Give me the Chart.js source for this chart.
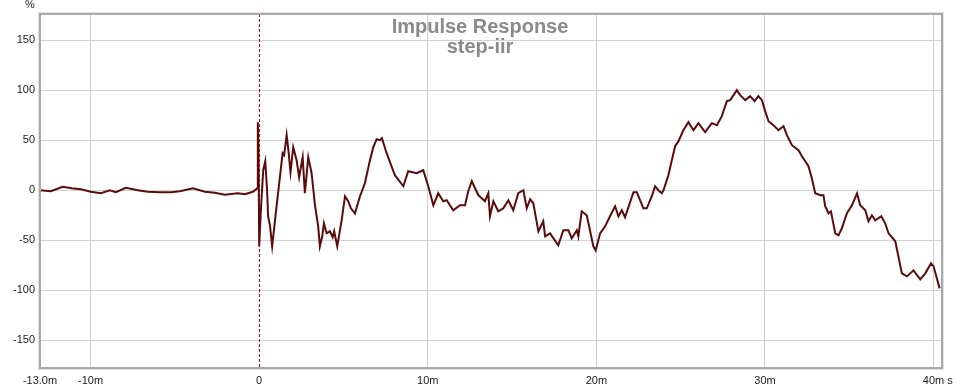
<!DOCTYPE html>
<html>
<head>
<meta charset="utf-8">
<script src="https://cdn.jsdelivr.net/npm/chart.js@4.4.1/dist/chart.umd.min.js"></script>
<style>
    html, body { margin: 0; padding: 0; background: #fff; }
</style>
</head>
<body>
<canvas id="myChart" width="960" height="390"></canvas>
<script>
// time in ms, response in %
const timeMs = [
    -13.0, -12.36, -11.65, -11.12, -10.58, -9.99, -9.39, -8.86, -8.50, -7.91,
    -7.20, -6.61, -5.89, -5.24, -4.71, -3.93, -3.22, -2.63, -2.04, -1.26,
    -0.85, -0.37, -0.18, -0.12, -0.08, -0.04, 0.0, 0.10, 0.24, 0.36,
    0.47, 0.53, 0.64, 0.77, 1.03, 1.23, 1.39, 1.48, 1.63, 1.72,
    1.86, 2.02, 2.22, 2.37, 2.58, 2.71, 2.91, 3.11, 3.31, 3.50,
    3.60, 3.74, 3.84, 4.00, 4.20, 4.36, 4.45, 4.63, 4.89, 5.09,
    5.28, 5.44, 5.68, 5.98, 6.27, 6.57, 6.77, 6.97, 7.16, 7.28,
    7.56, 8.05, 8.55, 8.84, 9.34, 9.73, 10.03, 10.33, 10.62, 10.92,
    11.12, 11.51, 11.91, 12.21, 12.40, 12.61, 13.00, 13.39, 13.59, 13.69,
    13.89, 14.18, 14.48, 14.78, 15.07, 15.37, 15.67, 15.87, 16.07, 16.26,
    16.56, 16.85, 16.96, 17.25, 17.74, 18.04, 18.34, 18.54, 18.84, 18.93,
    19.13, 19.43, 19.82, 19.96, 20.22, 20.52, 20.81, 21.11, 21.31, 21.51,
    21.70, 22.20, 22.40, 22.79, 22.99, 23.29, 23.48, 23.68, 23.88, 23.98,
    24.27, 24.67, 24.87, 25.16, 25.46, 25.76, 26.05, 26.45, 26.85, 27.15,
    27.44, 27.74, 27.94, 28.33, 28.53, 28.83, 29.12, 29.38, 29.61, 29.82,
    30.01, 30.21, 30.50, 30.80, 31.10, 31.30, 31.60, 31.99, 32.19, 32.58,
    32.78, 32.98, 33.28, 33.47, 33.57, 33.77, 33.91, 34.17, 34.36, 34.56,
    34.86, 35.16, 35.46, 35.65, 35.95, 36.14, 36.34, 36.54, 36.90, 37.13,
    37.33, 37.73, 38.12, 38.42, 38.81, 39.21, 39.51, 39.85, 40.00, 40.36
];
const percent = [
    0, -1, 3.5, 2, 1, -1.5, -3, 0, -2, 2.5,
    0, -1.5, -2, -2, -1, 2, -1.5, -2.5, -4.5, -3,
    -4, -1.5, 1, 2, 68, 40, -56, -20, 20, 29,
    0, -26, -35, -56, -16, 13, 37, 35, 55, 42,
    18, 43, 30, 13, 33, -3, 33, 17, -15, -36,
    -56, -46, -33, -43, -41, -47, -41, -56, -30, -6,
    -11, -18, -23, -6, 7, 30, 43, 51, 50, 52,
    37, 15, 4, 19, 17, 20, 4, -15, -3, -11,
    -10, -20, -15, -15, -1, 9, -5, -11, -3, -26,
    -11, -21, -18, -10, -20, -3, 0, -18, -9, -13,
    -41, -31, -46, -43, -55, -40, -40, -48, -40, -46,
    -21, -25, -56, -60, -43, -36, -26, -16, -26, -20,
    -27, -2, -2, -18, -18, -6, 4, 0, -3, 0,
    15, 44, 49, 60, 68, 60, 67, 58, 67, 65,
    74, 89, 90, 100, 95, 90, 94, 89, 94, 90,
    79, 69, 65, 60, 64, 55, 45, 40, 34, 24,
    12, -3, -5, -5, -16, -23, -21, -43, -45, -38,
    -23, -15, -3, -15, -20, -31, -25, -30, -26, -33,
    -43, -51, -83, -86, -80, -89, -83, -73, -76, -98
];

const xTicks = [-13, -10, 0, 10, 20, 30, 40];
const xTickLabels = ['-13.0m', '-10m', '0', '10m', '20m', '30m', '40m'];
const yTicks = [-150, -100, -50, 0, 50, 100, 150];
const yTickLabels = ['-150', '-100', '-50', '0', '50', '100', '150'];

const titleLines = ['Impulse Response', 'step-iir'];

// frame, title and units drawn on top of the grid
const decorPlugin = {
    id: 'decor',
    beforeDatasetsDraw(chart) {
        const ctx = chart.ctx;
        const area = chart.chartArea;
        const xs = chart.scales.x;
        ctx.save();
        // zero marker
        const x0 = Math.round(xs.getPixelForValue(0)) + 0.5;
        ctx.strokeStyle = '#dd0000';
        ctx.lineWidth = 1;
        ctx.setLineDash([3, 2]);
        ctx.beginPath();
        ctx.moveTo(x0, area.top);
        ctx.lineTo(x0, area.bottom);
        ctx.stroke();
        ctx.setLineDash([]);
        // title
        ctx.fillStyle = '#8a8a8a';
        ctx.font = 'bold 20px "Liberation Sans", Arial, sans-serif';
        ctx.textAlign = 'center';
        ctx.textBaseline = 'alphabetic';
        ctx.fillText(titleLines[0], 480, 33);
        ctx.fillText(titleLines[1], 480, 53);
        ctx.restore();
    },
    afterDraw(chart) {
        const ctx = chart.ctx;
        const area = chart.chartArea;
        ctx.save();
        // gray frame
        ctx.strokeStyle = '#e2e2e2';
        ctx.lineWidth = 1;
        ctx.strokeRect(area.left - 1.5, area.top - 1.5, area.right - area.left + 3, area.bottom - area.top + 3);
        ctx.strokeStyle = '#a9a9a9';
        ctx.lineWidth = 2;
        ctx.strokeRect(area.left, area.top, area.right - area.left, area.bottom - area.top);
        // units
        ctx.fillStyle = '#222';
        ctx.font = '11px "Liberation Sans", Arial, sans-serif';
        ctx.textBaseline = 'middle';
        ctx.textAlign = 'center';
        ctx.fillText('%', 30, 5);
        ctx.fillText('s', 950, 381);
        ctx.restore();
    }
};

const ctx = document.getElementById('myChart').getContext('2d');

const myChart = new Chart(ctx, {
    type: 'line',
    data: {
        datasets: [
            {
                label: 'step-iir',
                data: timeMs.map((t, i) => ({ x: t, y: percent[i] })),
                borderColor: '#5a0c0c',
                borderWidth: 2,
                pointRadius: 0,
                tension: 0,
                fill: false
            }
        ]
    },
    options: {
        responsive: false,
        animation: false,
        layout: {
            padding: { left: 0, top: 14, right: 18, bottom: 0 }
        },
        scales: {
            x: {
                type: 'linear',
                min: -13,
                max: 40.5,
                afterBuildTicks: axis => { axis.ticks = xTicks.map(v => ({ value: v })); },
                afterFit: axis => { axis.height = 22; },
                grid: {
                    color: c => (c.tick && c.tick.value === 0) ? 'transparent' : '#cfcfcf',
                    lineWidth: 1,
                    drawTicks: false
                },
                border: { display: false },
                ticks: {
                    autoSkip: false,
                    maxRotation: 0,
                    padding: 6,
                    color: '#222',
                    font: { family: '"Liberation Sans", Arial, sans-serif', size: 11 },
                    callback: (value, index) => xTickLabels[index]
                }
            },
            y: {
                type: 'linear',
                min: -177.5,
                max: 176,
                afterBuildTicks: axis => { axis.ticks = yTicks.map(v => ({ value: v })); },
                afterFit: axis => { axis.width = 40; },
                grid: {
                    color: '#d2d2d2',
                    lineWidth: 1,
                    drawTicks: false
                },
                border: { display: false },
                ticks: {
                    padding: 5,
                    color: '#222',
                    font: { family: '"Liberation Sans", Arial, sans-serif', size: 11 },
                    callback: (value, index) => yTickLabels[index]
                }
            }
        },
        plugins: {
            legend: { display: false },
            title: { display: false },
            tooltip: { enabled: false }
        }
    },
    plugins: [decorPlugin]
});
</script>
</body>
</html>
